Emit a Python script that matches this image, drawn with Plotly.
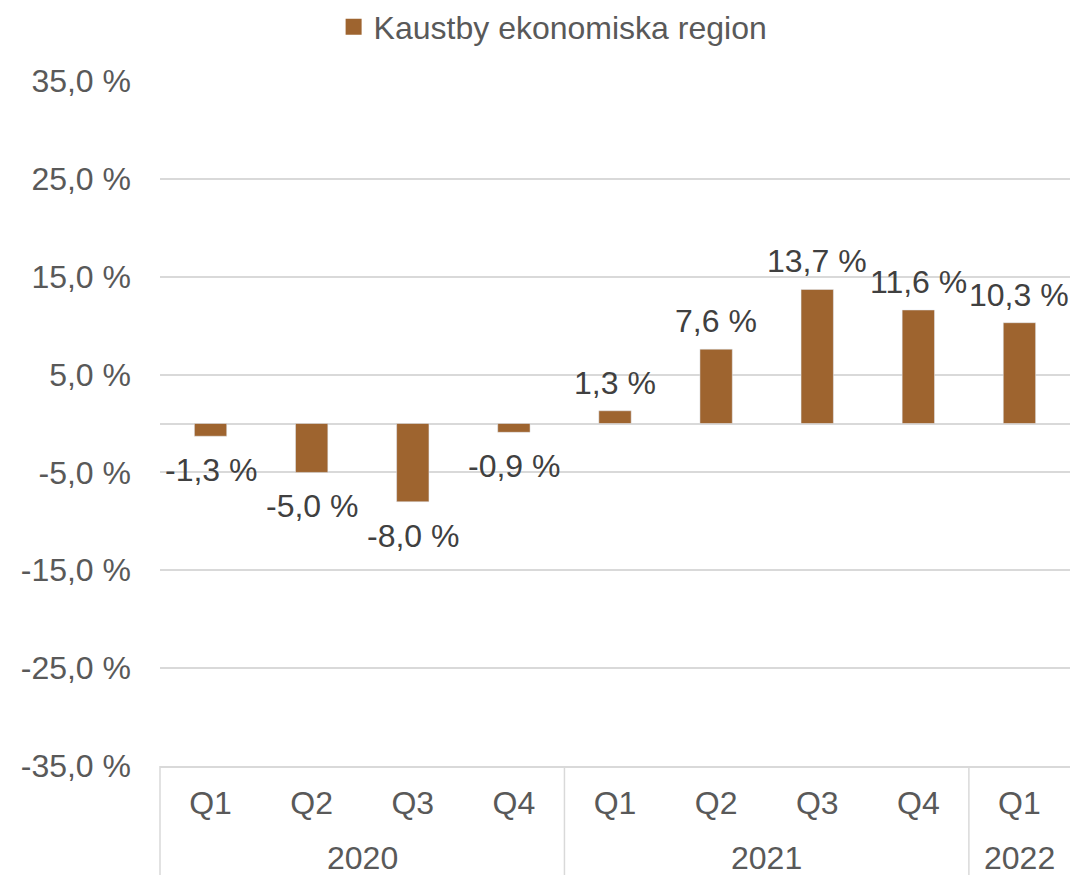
import plotly.graph_objects as go

# data
years = ["2020", "2020", "2020", "2020", "2021", "2021", "2021", "2021", "2022"]
quarters = ["Q1", "Q2", "Q3", "Q4", "Q1", "Q2", "Q3", "Q4", "Q1"]
values = [-1.3, -5.0, -8.0, -0.9, 1.3, 7.6, 13.7, 11.6, 10.3]
series_name = "Kaustby ekonomiska region"
y_ticks = [-35, -25, -15, -5, 5, 15, 25, 35]


def pct(v):
    return f"{v:.1f} %".replace(".", ",")


BAR_COLOR = "#9E642F"
GRID = "#D9D9D9"
FONT = "Liberation Sans, Arial, sans-serif"
FS = 32

W, H = 1074, 875
M_L, M_R, M_T, M_B = 160, 4, 81, 109
plot_h = H - M_T - M_B

n = len(values)
xs = list(range(n))

fig = go.Figure()
fig.add_trace(go.Bar(
    x=xs, y=values, marker_color=BAR_COLOR, width=0.32,
    showlegend=False, hoverinfo="skip"
))
# legend entry with a larger square symbol
fig.add_trace(go.Scatter(
    x=[None], y=[None], mode="markers", name=series_name,
    marker=dict(symbol="square", size=18, color=BAR_COLOR)
))

annotations = []
for i, v in enumerate(values):
    annotations.append(dict(
        x=i, y=v, xref="x", yref="y", text=pct(v), showarrow=False,
        yanchor="bottom" if v >= 0 else "top",
        yshift=8 if v >= 0 else -14,
        font=dict(size=FS, color="#404040", family=FONT)
    ))

# year groups
groups = []
for i, yr in enumerate(years):
    if not groups or groups[-1][0] != yr:
        groups.append([yr, i, i])
    else:
        groups[-1][2] = i

shapes = []
for yr, start, end in groups:
    annotations.append(dict(
        x=(start + end) / 2, xref="x", y=-92 / plot_h, yref="paper",
        text=yr, showarrow=False, yanchor="middle",
        font=dict(size=FS, color="#595959", family=FONT)
    ))
    xb = start / n
    shapes.append(dict(
        type="line", xref="paper", yref="paper", x0=xb, x1=xb,
        y0=0, y1=-M_B / plot_h, line=dict(color=GRID, width=1.5)
    ))

fig.update_layout(
    width=W, height=H,
    margin=dict(l=M_L, r=M_R, t=M_T, b=M_B, autoexpand=False),
    paper_bgcolor="white", plot_bgcolor="white",
    font=dict(family=FONT, size=FS, color="#595959"),
    showlegend=True,
    legend=dict(orientation="h", xref="container", yref="container",
                x=0.515, xanchor="center", y=1 - 27 / H, yanchor="middle",
                font=dict(size=FS, color="#595959"), itemsizing="trace"),
    annotations=annotations,
    shapes=shapes,
)

fig.update_xaxes(
    range=[-0.5, n - 0.5], tickmode="array", tickvals=xs, ticktext=quarters,
    showgrid=False, zeroline=False, showline=True, linecolor=GRID, linewidth=1.5,
    ticks="", ticklabelstandoff=8, automargin=False,
    tickfont=dict(size=FS, color="#595959")
)
fig.update_yaxes(
    range=[-35, 35], tickmode="array", tickvals=y_ticks,
    ticktext=[pct(t) for t in y_ticks],
    showgrid=True, gridcolor=GRID, gridwidth=1.5,
    zeroline=True, zerolinecolor=GRID, zerolinewidth=1.5,
    ticks="", ticklabelstandoff=28, automargin=False,
    tickfont=dict(size=FS, color="#595959")
)

fig.write_html("out.html", config={"displayModeBar": False},
               post_script="document.body.style.margin='0';")
